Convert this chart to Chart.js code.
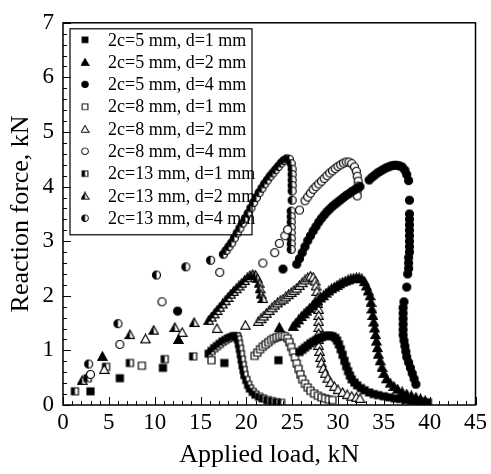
<!DOCTYPE html>
<html>
<head>
<meta charset="utf-8">
<script src="https://cdn.jsdelivr.net/npm/chart.js@4/dist/chart.umd.min.js"></script>
<style>
  html, body { margin: 0; padding: 0; background: #fff; }
</style>
</head>
<body>
<canvas id="chart" width="491" height="474"></canvas>
<script>
// legend labels, in legend order
const seriesLabels = [
  '2c=5 mm, d=1 mm', '2c=5 mm, d=2 mm', '2c=5 mm, d=4 mm',
  '2c=8 mm, d=1 mm', '2c=8 mm, d=2 mm', '2c=8 mm, d=4 mm',
  '2c=13 mm, d=1 mm', '2c=13 mm, d=2 mm', '2c=13 mm, d=4 mm'
];

// [applied load kN, reaction force kN]
const c5d1 = [
  [3.0,0.25],[6.2,0.49],[10.9,0.68],[17.6,0.77],[23.5,0.82],
  [25.8,0.97],[26.1,1.01],[26.4,1.05],[26.7,1.09],[27.0,1.13],[27.3,1.16],[27.6,1.19],[27.9,1.22],
  [28.2,1.24],[28.5,1.26],[28.8,1.27],[29.1,1.27],[29.4,1.26],[29.7,1.23],[29.9,1.18],[30.1,1.11],
  [30.3,1.02],[30.5,0.92],[30.7,0.81],[30.9,0.71],[31.1,0.62],[31.3,0.54],[31.5,0.47],[31.8,0.41],
  [32.1,0.36],[32.5,0.31],[32.9,0.27],[33.4,0.23],[33.9,0.20],[34.4,0.18],[35.0,0.16],[35.6,0.14],
  [36.2,0.12],[36.8,0.11],[37.4,0.09],[38.0,0.08],[38.6,0.07],[39.2,0.06],[39.8,0.05]
];
const c5d2 = [
  [4.3,0.89],[12.6,1.20],[23.6,1.42],
  [25.1,1.44],[25.4,1.50],[25.7,1.56],[26.0,1.62],[26.3,1.67],[26.6,1.72],[26.9,1.77],[27.2,1.82],
  [27.5,1.87],[27.8,1.91],[28.1,1.96],[28.4,2.00],[28.7,2.05],[29.0,2.09],[29.3,2.13],[29.6,2.16],
  [29.9,2.19],[30.2,2.22],[30.5,2.25],[30.8,2.27],[31.1,2.29],[31.4,2.31],[31.7,2.32],[32.0,2.33],
  [32.3,2.33],[32.6,2.31],[32.9,2.26],[33.1,2.18],[33.3,2.09],[33.5,2.00],[33.6,1.88],[33.7,1.76],
  [33.8,1.64],[33.9,1.52],[34.0,1.41],[34.1,1.29],[34.2,1.17],[34.3,1.05],[34.4,0.93],[34.6,0.81],
  [34.8,0.69],[35.0,0.58],[35.3,0.48],[35.7,0.40],[36.1,0.34],[36.5,0.29],[37.0,0.24],[37.5,0.20],
  [38.0,0.17],[38.5,0.14],[39.0,0.11],[39.5,0.08]
];
const c5d4 = [
  [12.5,1.72],[24.0,2.49],
  [25.5,2.58],[25.8,2.68],[26.1,2.79],[26.4,2.90],[26.7,3.01],[27.0,3.10],[27.3,3.19],[27.6,3.27],
  [27.9,3.35],[28.2,3.42],[28.5,3.48],[28.8,3.54],[29.1,3.59],[29.4,3.64],[29.7,3.68],[30.0,3.72],
  [30.3,3.76],[30.6,3.80],[30.9,3.84],[31.2,3.87],[31.5,3.91],[31.8,3.94],[32.1,3.97],[32.4,4.00],
  [33.4,4.12],[33.7,4.17],[34.0,4.21],[34.3,4.25],[34.6,4.28],[34.9,4.31],[35.2,4.34],[35.5,4.36],
  [35.8,4.38],[36.1,4.39],[36.4,4.39],[36.7,4.38],[37.0,4.36],[37.3,4.30],[37.5,4.22],[37.7,4.11],
  [37.8,3.75],[37.8,3.50],[37.8,3.40],[37.8,3.30],[37.8,3.20],[37.8,3.10],[37.8,3.00],[37.8,2.90],
  [37.8,2.80],[37.7,2.70],[37.7,2.60],[37.7,2.50],[37.6,2.40],[37.5,2.16],[37.2,1.89],[37.1,1.78],
  [37.1,1.68],[37.1,1.58],[37.1,1.48],[37.1,1.38],[37.1,1.28],[37.2,1.18],[37.3,1.08],[37.4,0.98],
  [37.5,0.88],[37.7,0.78],[37.9,0.68],[38.1,0.58],[38.3,0.48],[38.5,0.38]
];
const c8d1 = [
  [8.6,0.72],[16.2,0.82],
  [20.9,0.90],[21.2,0.96],[21.5,1.02],[21.8,1.07],[22.1,1.11],[22.4,1.15],[22.7,1.19],[23.0,1.22],
  [23.3,1.24],[23.6,1.26],[23.9,1.27],[24.2,1.26],[24.5,1.22],[24.7,1.15],[24.9,1.06],[25.1,0.97],
  [25.3,0.87],[25.5,0.76],[25.7,0.66],[25.9,0.56],[26.1,0.47],[26.4,0.39],[26.7,0.32],[27.0,0.26],
  [27.4,0.21],[27.8,0.17],[28.2,0.14],[28.6,0.12],[29.0,0.10],[29.4,0.09]
];
const c8d2 = [
  [4.5,0.65],[9.0,1.21],[13.0,1.33],[16.8,1.40],[19.9,1.46],
  [21.3,1.53],[21.6,1.58],[21.9,1.63],[22.2,1.68],[22.5,1.73],[22.8,1.78],[23.1,1.83],[23.4,1.87],
  [23.7,1.91],[24.0,1.94],[24.3,1.98],[24.6,2.02],[24.9,2.06],[25.2,2.10],[25.5,2.14],[25.8,2.19],
  [26.1,2.24],[26.4,2.29],[26.7,2.33],[27.0,2.36],[27.3,2.34],[27.5,2.27],[27.6,2.18],[27.7,2.08],
  [27.8,1.97],[27.8,1.86],[27.9,1.75],[27.9,1.64],[27.9,1.53],[27.9,1.42],[27.9,1.31],[27.9,1.20],
  [27.9,1.09],[28.0,0.98],[28.1,0.87],[28.2,0.77],[28.4,0.67],[28.6,0.58],[28.9,0.49],[29.2,0.41],
  [29.6,0.34],[30.0,0.28],[30.5,0.23],[31.0,0.19],[31.5,0.16],[32.0,0.14],[32.4,0.12]
];
const c8d4 = [
  [3.0,0.56],[6.2,1.11],[10.8,1.89],[17.1,2.43],[21.8,2.60],[23.1,2.79],[23.6,2.96],[24.2,3.10],
  [24.5,3.21],[25.8,3.57],
  [26.4,3.74],[26.7,3.81],[27.0,3.88],[27.3,3.95],[27.6,4.00],[27.9,4.05],[28.2,4.10],[28.5,4.15],
  [28.8,4.20],[29.1,4.25],[29.4,4.29],[29.7,4.33],[30.0,4.37],[30.3,4.40],[30.6,4.43],[30.9,4.45],
  [31.2,4.45],[31.5,4.42],[31.8,4.36],[32.0,4.28],[32.1,4.19],[32.2,4.10],[32.2,4.01],[32.1,3.92],
  [32.1,3.83]
];
const c13d1 = [
  [1.3,0.25],[2.7,0.49],[4.7,0.70],[7.3,0.77],[11.1,0.84],[14.2,0.89],
  [15.9,0.94],[16.2,0.99],[16.5,1.04],[16.8,1.08],[17.1,1.12],[17.4,1.16],[17.7,1.19],[18.0,1.22],
  [18.3,1.24],[18.6,1.26],[18.9,1.26],[19.0,1.25],[19.1,1.20],[19.2,1.12],[19.3,1.03],[19.4,0.93],
  [19.5,0.83],[19.6,0.73],[19.7,0.64],[19.8,0.55],[20.0,0.46],[20.2,0.37],[20.4,0.30],[20.7,0.24],
  [21.0,0.19],[21.4,0.15],[21.8,0.12],[22.3,0.09],[22.8,0.07],[23.3,0.05],[23.8,0.04]
];
const c13d2 = [
  [2.1,0.45],[7.3,1.29],[9.9,1.37],[12.2,1.42],[14.3,1.51],
  [15.9,1.55],[16.2,1.61],[16.5,1.67],[16.8,1.73],[17.1,1.79],[17.4,1.85],[17.7,1.91],[18.0,1.97],
  [18.3,2.03],[18.6,2.08],[18.9,2.13],[19.2,2.18],[19.5,2.23],[19.8,2.28],[20.1,2.33],[20.4,2.37],
  [20.7,2.39],[21.0,2.38],[21.2,2.32],[21.4,2.23],[21.5,2.13],[21.6,2.03],[21.8,1.95]
];
const c13d4 = [
  [2.8,0.75],[6.0,1.49],[10.2,2.38],[13.4,2.53],[16.1,2.65],
  [17.5,2.76],[17.8,2.83],[18.1,2.90],[18.4,2.97],[18.7,3.06],[19.0,3.15],[19.3,3.24],[19.6,3.33],
  [19.9,3.42],[20.2,3.51],[20.5,3.61],[20.8,3.71],[21.1,3.80],[21.4,3.89],[21.7,3.97],[22.0,4.05],
  [22.3,4.12],[22.6,4.19],[22.9,4.25],[23.2,4.31],[23.5,4.37],[23.8,4.43],[24.1,4.48],[24.4,4.51],
  [24.7,4.50],[24.9,4.42],[25.0,4.32],[25.0,4.22],[25.0,4.12],[25.0,4.02],[25.0,3.92],[25.0,3.75],
  [24.9,3.55],[24.9,3.45],[24.9,3.35],[24.9,3.25],[24.9,3.15],[24.9,3.05],[24.9,2.95],[24.9,2.85]
];

const allSeries = [c5d1, c5d2, c5d4, c8d1, c8d2, c8d4, c13d1, c13d2, c13d4];

// axis ranges and tick steps
const xMin = 0, xMax = 45, xStep = 5, xMinorStep = 1;
const yMin = 0, yMax = 7, yStep = 1, yMinorStep = 0.2;

const serif = '"Liberation Serif", "DejaVu Serif", serif';

// draw one marker into a small canvas, used as the point style
function marker(shape, fill) {
  const s = 11, m = s / 2;
  const c = document.createElement('canvas');
  c.width = s; c.height = s;
  const g = c.getContext('2d');
  const path = () => {
    g.beginPath();
    if (shape === 'circle') g.arc(m, m, 4, 0, Math.PI * 2);
    else if (shape === 'rect') g.rect(m - 3.5, m - 3.5, 7, 7);
    else { g.moveTo(m, m - 4.5); g.lineTo(m + 4.6, m + 3.8); g.lineTo(m - 4.6, m + 3.8); g.closePath(); }
  };
  path();
  g.fillStyle = fill === 'full' ? '#000' : '#fff';
  g.fill();
  if (fill === 'half') {
    g.save();
    g.beginPath(); g.rect(0, 0, m, s); g.clip();
    path(); g.fillStyle = '#000'; g.fill();
    g.restore();
  }
  path();
  g.lineWidth = 1.2;
  g.strokeStyle = '#000';
  g.stroke();
  return c;
}

const shapes = ['rect', 'triangle', 'circle'];
const fills = ['full', 'open', 'half'];

const datasets = allSeries.map((pts, i) => ({
  label: seriesLabels[i],
  data: pts.map(p => ({ x: p[0], y: p[1] })),
  showLine: false,
  pointStyle: marker(shapes[i % 3], fills[Math.floor(i / 3)]),
  pointRadius: 4,
  pointHoverRadius: 4
}));

// frame, inward ticks and the boxed legend
const framePlugin = {
  id: 'frame',
  afterDatasetsDraw(chart) {
    const { ctx, chartArea: a, scales: { x, y } } = chart;
    ctx.save();
    ctx.strokeStyle = '#000';
    ctx.lineWidth = 1.5;
    ctx.strokeRect(a.left, a.top, a.right - a.left, a.bottom - a.top);

    ctx.lineWidth = 1;
    ctx.beginPath();
    const nx = Math.round((xMax - xMin) / xMinorStep);
    for (let i = 0; i <= nx; i++) {
      const v = xMin + i * xMinorStep;
      const px = Math.round(x.getPixelForValue(v)) + 0.5;
      const len = (v % xStep === 0) ? 8 : 4;
      ctx.moveTo(px, a.bottom); ctx.lineTo(px, a.bottom - len);
    }
    const ny = Math.round((yMax - yMin) / yMinorStep);
    for (let i = 0; i <= ny; i++) {
      const v = yMin + i * yMinorStep;
      const py = Math.round(y.getPixelForValue(v)) + 0.5;
      const len = (i % Math.round(yStep / yMinorStep) === 0) ? 8 : 4;
      ctx.moveTo(a.left, py); ctx.lineTo(a.left + len, py);
    }
    ctx.stroke();

    // legend box
    const bx = a.left + 7, by = a.top + 6, bw = 182, bh = 206;
    ctx.lineWidth = 1.2;
    ctx.strokeRect(bx, by, bw, bh);
    ctx.font = '18px ' + serif;
    ctx.fillStyle = '#000';
    ctx.textBaseline = 'middle';
    chart.data.datasets.forEach((ds, i) => {
      const rowY = by + 11 + i * 22.3;
      const img = ds.pointStyle;
      ctx.drawImage(img, bx + 15 - 4.5, rowY - 4.5, 9, 9);
      ctx.fillText(ds.label, bx + 38, rowY + 1);
    });
    ctx.restore();
  }
};

new Chart(document.getElementById('chart'), {
  type: 'scatter',
  data: { datasets },
  plugins: [framePlugin],
  options: {
    responsive: false,
    animation: false,
    events: [],
    layout: { padding: { top: 16, right: 11, left: 0, bottom: 0 } },
    plugins: { legend: { display: false }, tooltip: { enabled: false } },
    scales: {
      x: {
        type: 'linear', min: xMin, max: xMax,
        grid: { display: false, drawTicks: false },
        border: { display: false },
        ticks: { stepSize: xStep, color: '#000', padding: 4, font: { family: serif, size: 23 } },
        title: { display: true, text: 'Applied load, kN', color: '#000', font: { family: serif, size: 26 }, padding: { top: 0, bottom: 3 } },
        afterFit(scale) { scale.height = 69; }
      },
      y: {
        type: 'linear', min: yMin, max: yMax,
        grid: { display: false, drawTicks: false },
        border: { display: false },
        ticks: { stepSize: yStep, color: '#000', padding: 9, font: { family: serif, size: 23 } },
        title: { display: true, text: 'Reaction force, kN', color: '#000', font: { family: serif, size: 26 }, padding: { top: 6, bottom: 0 } },
        afterFit(scale) { scale.width = 63; }
      }
    }
  }
});
</script>
</body>
</html>
